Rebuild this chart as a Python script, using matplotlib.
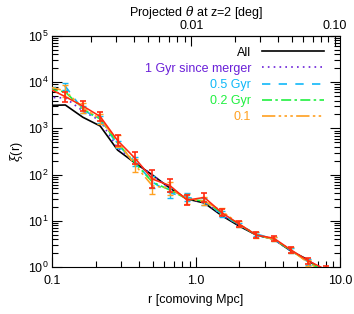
import numpy as np
import matplotlib
matplotlib.use("Agg")
import matplotlib.pyplot as plt

plt.rcParams['font.family'] = ['Liberation Sans', 'DejaVu Sans']
plt.rcParams['mathtext.fontset'] = 'dejavuserif'

# separation bins [comoving Mpc]
r = [0.093, 0.123, 0.163, 0.215, 0.284, 0.376, 0.497, 0.656, 0.866,
     1.14, 1.51, 1.99, 2.63, 3.47, 4.58, 6.05, 7.99]

# correlation function per sample
xi_all = [3130, 3210, 1740, 1127, 340, 178, 98, 51, 29.6,
          24.3, 12.9, 7.7, 4.9, 4.0, 2.2, 1.42, 0.65]
xi_1gyr = [4710, 4550, 2380, 1470, 377, 188, 98, 48.8, 29.6,
           25.5, 13.4, 8.1, 4.9, 3.96, 2.2, 1.35, 0.86]
xi_05gyr = [7310, 8150, 2540, 1540, 444, 190, 69, 40, 32.7,
            25.9, 14.0, 8.1, 5.2, 4.0, 2.27, 1.28, 0.75]
xi_02gyr = [7130, 6140, 2630, 1600, 483, 178, 69, 46.4, 29.6,
            26.8, 14.8, 8.3, 4.9, 4.0, 2.27, 1.28, 0.78]
xi_01gyr = [8070, 6450, 2770, 1600, 533, 161, 57, 51, 29.6,
            26.8, 16.3, 8.5, 4.9, 4.0, 2.33, 1.22, 0.75]
xi_red = [7490, 4850, 3050, 1810, 547, 225, 80, 58, 28,
          32, 15, 8.5, 4.9, 4.2, 2.33, 1.35, 0.88]

# error bar half-widths in dex
err_red = [0.10, 0.11, 0.11, 0.10, 0.11, 0.13, 0.20, 0.14, 0.11,
           0.09, 0.07, 0.06, 0.06, 0.05, 0.06, 0.07, 0.08]
err_01gyr = [0.12, 0.13, 0.11, 0.10, 0.12, 0.14, 0.18, 0.14, 0.11,
             0.09, 0.07, 0.06, 0.06, 0.05, 0.06, 0.07, 0.08]
err_05gyr = [0.08, 0.08, 0.08, 0.08, 0.08, 0.10, 0.12, 0.10, 0.08,
             0.07, 0.06, 0.05, 0.05, 0.05, 0.05, 0.06, 0.06]

labels = ["All", "1 Gyr since merger", "0.5 Gyr", "0.2 Gyr", "0.1"]
colors = ["black", "#6a1fd8", "#10b8f8", "#20f040", "#ffa020"]
styles = ["-", (0, (1, 2.5)), (0, (5, 5)), (0, (6, 2, 1.5, 2)),
          (0, (8, 2, 1.5, 2, 1.5, 2, 1.5, 2))]

DEG_PER_MPC = 0.0108


def yerr_from_dex(vals, dex):
    v = np.array(vals)
    d = np.array(dex)
    return [v - v / 10**d, v * 10**d - v]


fig = plt.figure(figsize=(3.54, 3.14), dpi=100)
ax = fig.add_axes([0.148, 0.1497, 0.812, 0.7357])

series = [xi_all, xi_1gyr, xi_05gyr, xi_02gyr, xi_01gyr]
for vals, c, ls in zip(series, colors, styles):
    ax.plot(r, vals, color=c, ls=ls, lw=1.2, zorder=3)

ax.errorbar(r, xi_05gyr, yerr=yerr_from_dex(xi_05gyr, err_05gyr), fmt="none",
            ecolor=colors[2], elinewidth=1.0, capsize=2, zorder=3)
ax.errorbar(r, xi_01gyr, yerr=yerr_from_dex(xi_01gyr, err_01gyr), fmt="none",
            ecolor=colors[4], elinewidth=1.0, capsize=2, zorder=3)
ax.errorbar(r, xi_red, yerr=yerr_from_dex(xi_red, err_red), color="#ff2a10",
            lw=1.15, elinewidth=1.2, capsize=2.2, capthick=1.2, zorder=4)

ax.set_xscale("log")
ax.set_yscale("log")
ax.set_xlim(0.1, 10.0)
ax.set_ylim(1, 1e5)

ax.set_xticks([0.1, 1.0, 10.0])
ax.set_xticklabels(["0.1", "1.0", "10.0"])
ax.set_yticks([1, 10, 100, 1e3, 1e4, 1e5])
ax.set_yticklabels([r"$\mathregular{10^{%d}}$" % k for k in range(6)])
ax.tick_params(which="both", direction="in", right=True, top=False,
               labelsize=9)
ax.tick_params(which="major", length=7, width=0.8)
ax.tick_params(which="minor", length=4, width=0.8)
ax.tick_params(axis="x", pad=6)
ax.tick_params(axis="y", pad=3)

ax.set_xlabel("r [comoving Mpc]", fontsize=9, labelpad=5)
ax.set_ylabel(r"$\xi$(r)", fontsize=9, labelpad=2)

top = ax.secondary_xaxis("top", functions=(lambda x: x * DEG_PER_MPC,
                                           lambda t: t / DEG_PER_MPC))
top.set_xticks([0.01, 0.1])
top.set_xticklabels(["0.01", "0.10"])
top.tick_params(which="both", direction="in", labelsize=9, pad=3)
top.tick_params(which="major", length=7, width=0.8)
top.tick_params(which="minor", length=4, width=0.8)
top.set_xlabel(r"Projected $\theta$ at z=2 [deg]", fontsize=9, labelpad=3)

# legend: label on the left, line sample on the right
row_y = [0.935, 0.865, 0.794, 0.723, 0.654]
for lab, c, ls, yy in zip(labels, colors, styles, row_y):
    ax.text(0.692, yy, lab, color=c, fontsize=9, ha="right",
            va="center_baseline", transform=ax.transAxes)
    ax.plot([0.728, 0.944], [yy, yy], color=c, ls=ls, lw=1.2,
            transform=ax.transAxes)

fig.savefig("out.png", dpi=100)
